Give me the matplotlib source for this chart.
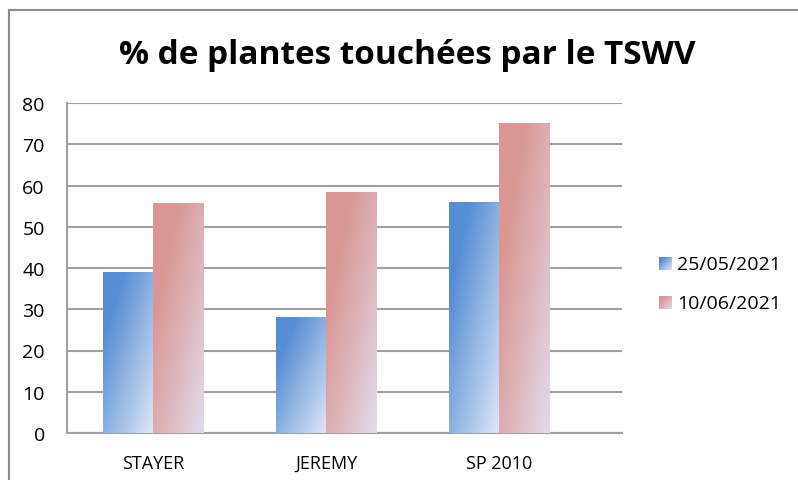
import numpy as np
import matplotlib
matplotlib.use("Agg")
import matplotlib.pyplot as plt
from matplotlib.colors import LinearSegmentedColormap
from matplotlib.lines import Line2D

plt.rcParams['font.family'] = ['Open Sans', 'DejaVu Sans']

# data
varietes = ['STAYER', 'JEREMY', 'SP 2010']
dates = ['25/05/2021', '10/06/2021']
pct_2505 = [39.0, 28.1, 56.0]
pct_1006 = [55.8, 58.4, 75.2]
titre = '% de plantes touchées par le TSWV'

# gradient maps (dark top-left -> light bottom-right)
cm_bleu = LinearSegmentedColormap.from_list('b', [(0, '#558ed5'), (0.2, '#558ed5'), (1, '#dfe7f5')])
cm_rouge = LinearSegmentedColormap.from_list('r', [(0, '#d99694'), (0.25, '#d99694'), (1, '#e1dcea')])

W, H = 798, 481
fig = plt.figure(figsize=(W / 100, H / 100), dpi=100)
ax = fig.add_axes([67 / W, (H - 434) / H, 555 / W, 330 / H])

# outer frame of the chart object
fig.add_artist(Line2D([9 / W, 1], [1 - 11 / H, 1 - 11 / H], color='#8c8c8c', lw=1.5))
fig.add_artist(Line2D([9 / W, 9 / W], [0, 1 - 11 / H], color='#8c8c8c', lw=1.5))

x = np.arange(len(varietes))
bw = 0.29

yy, xx = np.mgrid[0:1:200j, 0:1:60j]
grad = 0.5 * xx + 0.5 * yy  # row 0 at top with origin='upper'


def barres_degradees(xpos, vals, cmap):
    bars = ax.bar(xpos, vals, bw, color='none', edgecolor='none', zorder=3)
    for b in bars:
        x0, y0 = b.get_x(), b.get_y()
        im = ax.imshow(grad, cmap=cmap, vmin=0, vmax=1, aspect='auto', origin='upper',
                       extent=[x0, x0 + b.get_width(), y0, y0 + b.get_height()], zorder=3)
        im.set_clip_path(b)
    return bars


barres_degradees(x - bw / 2, pct_2505, cm_bleu)
barres_degradees(x + bw / 2, pct_1006, cm_rouge)

ax.set_xlim(-0.497, 2.711)
ax.set_ylim(0, 80)
ax.set_yticks(range(0, 81, 10))
ax.set_xticks(x)
ax.set_xticklabels(varietes)
ax.tick_params(axis='both', length=0, colors='black')
ax.tick_params(axis='y', pad=16, labelsize=14)
ax.tick_params(axis='x', pad=15, labelsize=13)
ax.yaxis.grid(True, color='#a0a0a0', lw=1.5, zorder=0)
ax.set_axisbelow(True)
for s in ['top', 'right']:
    ax.spines[s].set_visible(False)
for s in ['left', 'bottom']:
    ax.spines[s].set_color('#a0a0a0')
    ax.spines[s].set_linewidth(1.5)

fig.text(407 / W, 1 - 56 / H, titre, ha='center', va='center', fontsize=24, fontweight='bold')

# legend with gradient squares
sq = [(258, cm_bleu), (297, cm_rouge)]
for (ytop, cmap), lab in zip(sq, dates):
    lax = fig.add_axes([659 / W, 1 - (ytop + 13) / H, 13 / W, 13 / H])
    lax.imshow(grad, cmap=cmap, vmin=0, vmax=1, aspect='auto')
    lax.axis('off')
    fig.text(677 / W, 1 - (ytop + 7) / H, lab, ha='left', va='center', fontsize=14)

fig.savefig('out.png', dpi=100)
